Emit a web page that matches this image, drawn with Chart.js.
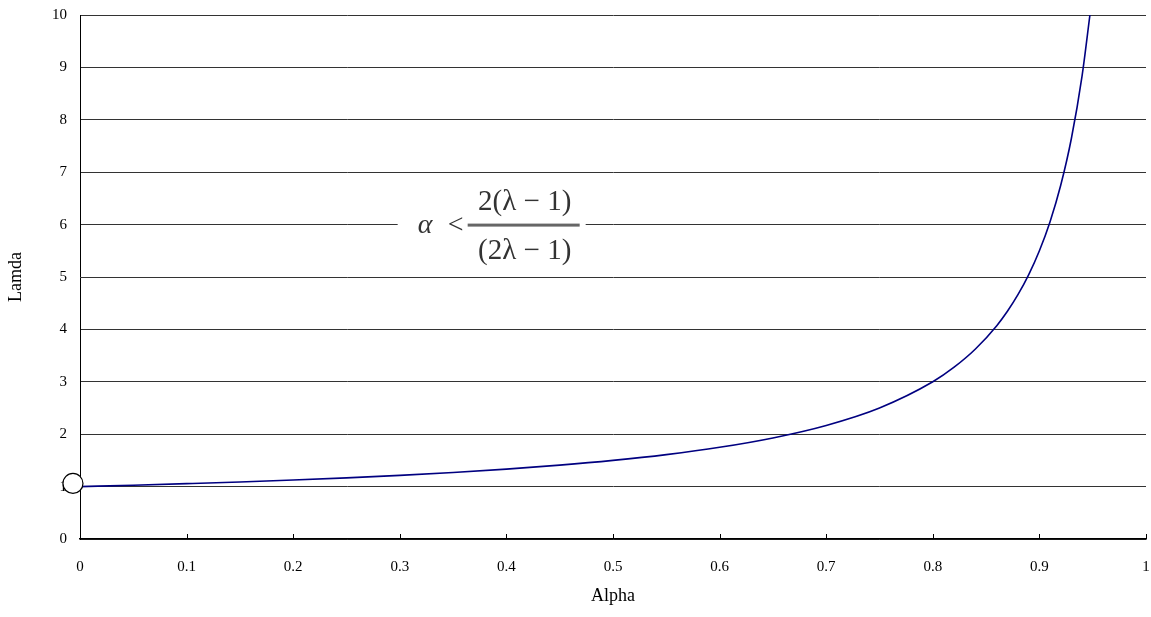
<!DOCTYPE html>
<html>
<head>
<meta charset="utf-8">
<script src="https://cdn.jsdelivr.net/npm/chart.js@4"></script>
<style>
  html, body { margin: 0; padding: 0; background: #fff; }
  #wrap { width: 1151px; height: 617px; }
</style>
</head>
<body>
<div id="wrap"><canvas id="lamdaChart"></canvas></div>
<script>
// --- Data ---
const alphaValues = [0, 0.05, 0.1, 0.15, 0.2, 0.25, 0.3, 0.35, 0.4, 0.45, 0.5, 0.55, 0.6, 0.65, 0.7, 0.75,
    0.8, 0.82, 0.84, 0.86, 0.87, 0.88, 0.89, 0.9, 0.91, 0.92, 0.93, 0.94, 0.9474];
const lamdaValues = [1, 1.026, 1.056, 1.088, 1.125, 1.167, 1.214, 1.269, 1.333, 1.409, 1.5, 1.611, 1.75, 1.929, 2.167, 2.5,
    3, 3.278, 3.625, 4.071, 4.346, 4.667, 5.045, 5.5, 6.056, 6.75, 7.643, 8.833, 10];
const markerPoint = { x: -0.0066, y: 1.06 };
const xTicks = [0, 0.1, 0.2, 0.3, 0.4, 0.5, 0.6, 0.7, 0.8, 0.9, 1];
const yTicks = [0, 1, 2, 3, 4, 5, 6, 7, 8, 9, 10];
const formulaAnchor = { x: 0.298, y: 6 };

const serif = '"Liberation Serif", "Times New Roman", serif';

// inward tick marks on the x axis
const xTickMarks = {
    id: 'xTickMarks',
    afterDraw(chart) {
        const { ctx, scales: { x, y } } = chart;
        const base = y.getPixelForValue(0);
        ctx.save();
        ctx.strokeStyle = '#000';
        ctx.lineWidth = 1;
        xTicks.forEach(v => {
            const px = Math.round(x.getPixelForValue(v)) + 0.5;
            ctx.beginPath();
            ctx.moveTo(px, base);
            ctx.lineTo(px, base - 5);
            ctx.stroke();
        });
        ctx.restore();
    }
};

// formula label with white box over the gridline
const formulaLabel = {
    id: 'formulaLabel',
    afterDatasetsDraw(chart) {
        const { ctx, scales: { x, y } } = chart;
        const left = x.getPixelForValue(formulaAnchor.x);
        const mid = y.getPixelForValue(formulaAnchor.y);
        ctx.save();
        ctx.fillStyle = '#fff';
        ctx.fillRect(left, mid - 45, 188, 90);
        ctx.fillStyle = '#333';
        ctx.textBaseline = 'middle';
        ctx.textAlign = 'left';
        ctx.font = 'italic 28px ' + serif;
        ctx.fillText('α', left + 20, mid + 1);
        ctx.font = '28px ' + serif;
        ctx.fillText('<', left + 50, mid + 1);
        ctx.fillStyle = '#666';
        ctx.fillRect(left + 70, mid - 1, 112, 3);
        ctx.fillStyle = '#333';
        ctx.textAlign = 'center';
        ctx.font = '29px ' + serif;
        ctx.fillText('2(λ − 1)', left + 127, mid - 22);
        ctx.fillText('(2λ − 1)', left + 127, mid + 27);
        ctx.restore();
    }
};

new Chart(document.getElementById('lamdaChart'), {
    type: 'scatter',
    data: {
        datasets: [{
            label: 'Lamda',
            data: alphaValues.map((a, i) => ({ x: a, y: lamdaValues[i] })),
            showLine: true,
            borderColor: '#000080',
            borderWidth: 1.6,
            pointRadius: 0,
            cubicInterpolationMode: 'monotone',
            order: 2
        }, {
            label: 'marker',
            data: [markerPoint],
            pointRadius: 10,
            pointBackgroundColor: '#fff',
            pointBorderColor: '#000',
            pointBorderWidth: 1.2,
            clip: false,
            order: 1
        }]
    },
    options: {
        responsive: true,
        maintainAspectRatio: false,
        animation: false,
        layout: { autoPadding: false, padding: { top: 15, right: 5, left: 0, bottom: 0 } },
        plugins: {
            legend: { display: false },
            tooltip: { enabled: false }
        },
        scales: {
            x: {
                type: 'linear',
                min: 0,
                max: 1,
                afterBuildTicks: s => { s.ticks = xTicks.map(v => ({ value: v })); },
                afterFit: s => { s.height = 78; s.paddingLeft = 0; s.paddingRight = 0; },
                grid: { drawOnChartArea: false, drawTicks: false },
                border: { color: '#000', width: 1.5 },
                ticks: {
                    color: '#000',
                    padding: 19,
                    font: { family: serif, size: 15 },
                    maxRotation: 0,
                    callback: v => String(v)
                },
                title: {
                    display: true,
                    text: 'Alpha',
                    color: '#000',
                    font: { family: serif, size: 18 },
                    padding: { top: 10, bottom: 10 }
                }
            },
            y: {
                min: 0,
                max: 10,
                afterBuildTicks: s => { s.ticks = yTicks.map(v => ({ value: v })); },
                afterFit: s => { s.width = 80; s.paddingTop = 0; s.paddingBottom = 0; },
                grid: { color: '#333', lineWidth: 1, drawTicks: false },
                border: { color: '#000', width: 1 },
                ticks: {
                    color: '#000',
                    padding: 13,
                    font: { family: serif, size: 15 }
                },
                title: {
                    display: true,
                    text: 'Lamda',
                    color: '#000',
                    font: { family: serif, size: 18 },
                    padding: { top: 5, bottom: 0 }
                }
            }
        }
    },
    plugins: [xTickMarks, formulaLabel]
});
</script>
</body>
</html>
